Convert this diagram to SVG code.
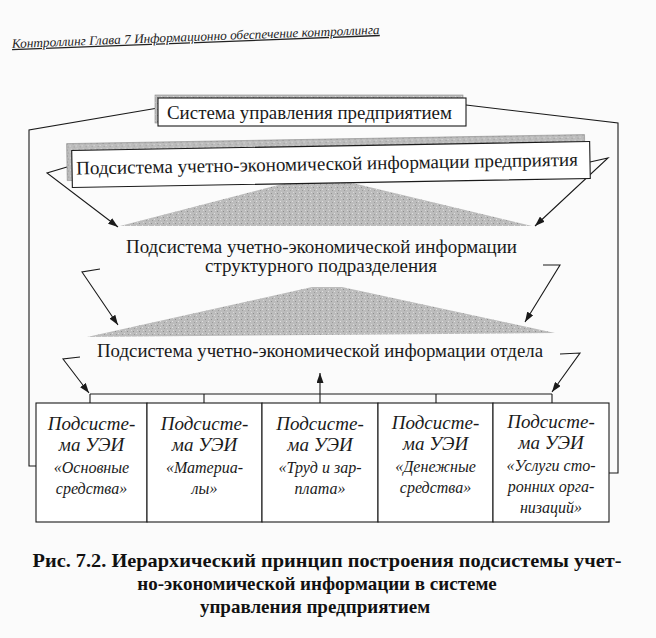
<svg xmlns="http://www.w3.org/2000/svg" width="656" height="638" viewBox="0 0 656 638">
<style>
.bg{fill:#fbfbfb}
.ln{fill:none;stroke:#1a1a1a;stroke-width:1.1}
.arr{fill:none;stroke:#1a1a1a;stroke-width:1.1;marker-end:url(#ah)}
.box{fill:#ffffff;stroke:#1a1a1a;stroke-width:1.1}
.shadow{fill:url(#tex);stroke:#8a8a8a;stroke-width:0.6}
.tri{fill:url(#tex)}
.t{font-family:"Liberation Serif","Times New Roman",serif;font-size:19px;fill:#1a1a1a}
.ti{font-family:"Liberation Serif","Times New Roman",serif;font-style:italic;fill:#1a1a1a;text-anchor:middle}
.big{font-size:19px}
.sm{font-size:16px}
.hdr{font-family:"Liberation Serif","Times New Roman",serif;font-style:italic;font-size:13px;fill:#222;text-decoration:underline}
.cap{font-family:"Liberation Serif","Times New Roman",serif;font-weight:bold;font-size:19px;fill:#111;text-anchor:middle}
</style>
<defs>
<pattern id="tex" width="6" height="6" patternUnits="userSpaceOnUse">
<rect width="6" height="6" fill="#bcbcbc"/>
<rect x="1" y="1" width="1" height="1" fill="#8e8e8e"/>
<rect x="4" y="3" width="1" height="1" fill="#e0e0e0"/>
<rect x="2" y="4" width="1" height="1" fill="#9a9a9a"/>
<rect x="5" y="0" width="1" height="1" fill="#d8d8d8"/>
</pattern>
<marker id="ah" viewBox="0 0 10 7" refX="10" refY="3.5" markerWidth="10" markerHeight="7" markerUnits="userSpaceOnUse" orient="auto">
<path d="M0,0 L10,3.5 L0,7 z" fill="#1a1a1a"/>
</marker>
</defs>
<rect class="bg" x="0" y="0" width="656" height="638"/>

<text class="hdr" x="12" y="48" transform="rotate(-2.2 12 48)" textLength="368" lengthAdjust="spacingAndGlyphs">Контроллинг  Глава 7 Информационно обеспечение контроллинга</text>

<g id="triangles">
<polygon class="tri" points="120,226 298,180 340,180 532,226"/>
<polygon class="tri" points="87,337 312,287 342,287 555,333"/>
</g>

<g id="connectors">
<polyline class="ln" points="158,108 29,130 29,466 36,466"/>
<polyline class="ln" points="466,105 618,123 618,473 609,473"/>
<polyline class="arr" points="67,167 47,173 118,227"/>
<polyline class="arr" points="590,162 608,158 535,226"/>
<polyline class="arr" points="100,269 82,272 118,325"/>
<polyline class="arr" points="543,265 560,265 525,322"/>
<polyline class="arr" points="80,357 63,359 89,393"/>
<polyline class="arr" points="560,354 580,353 552,392"/>
<line class="ln" x1="90" y1="394" x2="552" y2="394"/>
<line class="ln" x1="90" y1="394" x2="90" y2="403"/>
<line class="ln" x1="204" y1="394" x2="204" y2="403"/>
<line class="ln" x1="436" y1="394" x2="436" y2="403"/>
<line class="ln" x1="552" y1="394" x2="552" y2="403"/>
<line class="arr" x1="320" y1="403" x2="320" y2="373"/>
</g>

<g id="node-system">
<rect class="shadow" x="155" y="95" width="308" height="28"/>
<rect class="box" x="158" y="98" width="308" height="28"/>
<text class="t" x="167" y="119" textLength="285" lengthAdjust="spacingAndGlyphs">Система управления предприятием</text>
</g>

<g id="node-enterprise" transform="rotate(-1 331 164.5)">
<rect class="shadow" x="67" y="139" width="518" height="37"/>
<rect class="box" x="72" y="146" width="518" height="37"/>
<text class="t" x="76" y="170" textLength="502" lengthAdjust="spacingAndGlyphs">Подсистема учетно-экономической информации предприятия</text>
</g>

<g id="node-division">
<text class="t" x="126" y="253" textLength="391" lengthAdjust="spacingAndGlyphs">Подсистема учетно-экономической информации</text>
<text class="t" x="205" y="272" textLength="232" lengthAdjust="spacingAndGlyphs">структурного подразделения</text>
</g>

<g id="node-department">
<text class="t" x="97" y="357" textLength="446" lengthAdjust="spacingAndGlyphs">Подсистема учетно-экономической информации отдела</text>
</g>

<g id="node-fixed-assets">
<rect class="box" x="36" y="403" width="111" height="119"/>
<text class="ti big" x="91.5" y="430">Подсисте-</text>
<text class="ti big" x="91.5" y="451">ма УЭИ</text>
<text class="ti sm" x="91.5" y="473">«Основные</text>
<text class="ti sm" x="91.5" y="494">средства»</text>
</g>

<g id="node-materials">
<rect class="box" x="147" y="403" width="115" height="119"/>
<text class="ti big" x="204.5" y="430">Подсисте-</text>
<text class="ti big" x="204.5" y="451">ма УЭИ</text>
<text class="ti sm" x="204.5" y="473">«Материа-</text>
<text class="ti sm" x="204.5" y="494">лы»</text>
</g>

<g id="node-labor">
<rect class="box" x="262" y="403" width="116" height="119"/>
<text class="ti big" x="320" y="430">Подсисте-</text>
<text class="ti big" x="320" y="451">ма УЭИ</text>
<text class="ti sm" x="320" y="473">«Труд и зар-</text>
<text class="ti sm" x="320" y="494">плата»</text>
</g>

<g id="node-cash">
<rect class="box" x="378" y="403" width="115" height="119"/>
<text class="ti big" x="435.5" y="429">Подсисте-</text>
<text class="ti big" x="435.5" y="450">ма УЭИ</text>
<text class="ti sm" x="435.5" y="472">«Денежные</text>
<text class="ti sm" x="435.5" y="493">средства»</text>
</g>

<g id="node-services">
<rect class="box" x="493" y="403" width="116" height="119"/>
<text class="ti big" x="551" y="428">Подсисте-</text>
<text class="ti big" x="551" y="449">ма УЭИ</text>
<text class="ti sm" x="551" y="471">«Услуги сто-</text>
<text class="ti sm" x="551" y="492">ронних орга-</text>
<text class="ti sm" x="551" y="513">низаций»</text>
</g>

<g id="caption">
<text class="cap" x="327" y="567" textLength="589" lengthAdjust="spacingAndGlyphs">Рис. 7.2. Иерархический принцип построения подсистемы учет-</text>
<text class="cap" x="317" y="590">но-экономической информации в системе</text>
<text class="cap" x="315" y="613">управления предприятием</text>
</g>
</svg>
